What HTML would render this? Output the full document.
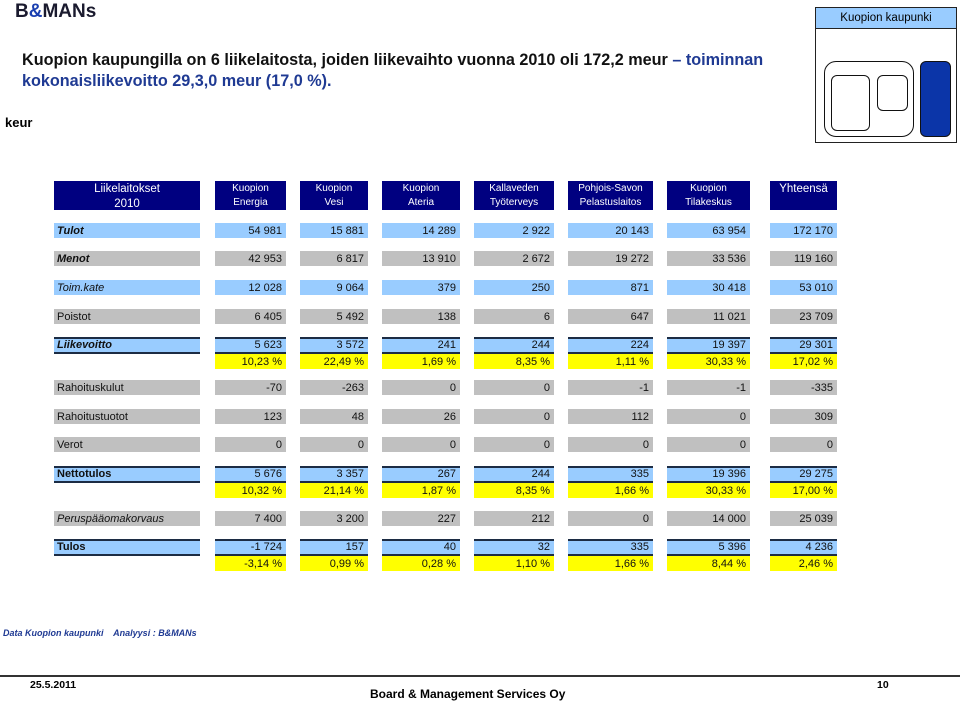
<!DOCTYPE html>
<html><head><meta charset="utf-8">
<style>
body{margin:0;width:960px;height:702px;background:#fff;position:relative;overflow:hidden;font-family:"Liberation Sans",sans-serif;}
.a{position:absolute;}
.c{position:absolute;height:15px;font-size:11px;line-height:16px;text-align:right;padding-right:4px;box-sizing:border-box;color:#111;}
.h{position:absolute;background:#000080;color:#fff;text-align:center;font-size:10px;line-height:14px;box-sizing:border-box;padding-top:1px;}
</style></head><body>
<div class="a" style="left:15px;top:1px;font-size:19px;font-weight:bold;color:#1a1a2e;">B<span style="color:#1a3fb0">&amp;</span>MANs</div>
<div class="a" style="left:22px;top:50px;font-size:16.2px;font-weight:bold;line-height:21px;color:#111;white-space:nowrap;">Kuopion kaupungilla on 6 liikelaitosta, joiden liikevaihto vuonna 2010 oli 172,2 meur <span style="color:#1f3a93">– toiminnan</span><br><span style="color:#1f3a93">kokonaisliikevoitto 29,3,0 meur (17,0 %).</span></div>
<div class="a" style="left:5px;top:115px;font-size:13px;font-weight:bold;">keur</div>
<div class="a" style="left:815px;top:7px;width:142px;height:136px;border:1px solid #222;box-sizing:border-box;">
 <div class="a" style="left:0;top:0;width:140px;height:20px;background:#99ccff;border-bottom:1px solid #222;font-size:11.5px;line-height:20px;text-align:center;">Kuopion kaupunki</div>
 <div class="a" style="left:8px;top:53px;width:90px;height:76px;border:1.5px solid #111;border-radius:12px;box-sizing:border-box;"></div>
 <div class="a" style="left:15px;top:67px;width:39px;height:56px;border:1.5px solid #111;border-radius:6px;box-sizing:border-box;"></div>
 <div class="a" style="left:61px;top:67px;width:31px;height:36px;border:1.5px solid #111;border-radius:6px;box-sizing:border-box;"></div>
 <div class="a" style="left:104px;top:53px;width:31px;height:76px;background:#0b35a8;border:1.5px solid #111;border-radius:6px;box-sizing:border-box;"></div>
</div>
<div id="tbl"></div>
<div class="a" style="left:3px;top:628px;font-size:9px;font-style:italic;font-weight:bold;color:#1f3a93;">Data Kuopion kaupunki &nbsp;&nbsp; Analyysi : B&amp;MANs</div>
<div class="a" style="left:0;top:675px;width:960px;height:2px;background:#333;"></div>
<div class="a" style="left:30px;top:679px;font-size:10.5px;font-weight:bold;">25.5.2011</div>
<div class="a" style="left:370px;top:687px;font-size:12px;font-weight:bold;">Board &amp; Management Services Oy</div>
<div class="a" style="left:877px;top:679px;font-size:10.5px;font-weight:bold;">10</div>
<script>
const colX=[215,300,382,474,568,667,770];
const colW=[71,68,78,80,85,83,67];
const headers1=["Kuopion","Kuopion","Kuopion","Kallaveden","Pohjois-Savon","Kuopion","Yhteensä"];
const headers2=["Energia","Vesi","Ateria","Työterveys","Pelastuslaitos","Tilakeskus",""];
const rowLabels=["Tulot","Menot","Toim.kate","Poistot","Liikevoitto","Rahoituskulut","Rahoitustuotot","Verot","Nettotulos","Peruspääomakorvaus","Tulos"];
const rowY=[223,251,280,309,337,380,409,437,466,511,539];
const rowKind=["b","g","b","g","L","g","g","g","N","g","N"];
const labelStyle=["bi","bi","i","","bi","","","","b","i","b"];
const rowValues=[
["54 981","15 881","14 289","2 922","20 143","63 954","172 170"],
["42 953","6 817","13 910","2 672","19 272","33 536","119 160"],
["12 028","9 064","379","250","871","30 418","53 010"],
["6 405","5 492","138","6","647","11 021","23 709"],
["5 623","3 572","241","244","224","19 397","29 301"],
["-70","-263","0","0","-1","-1","-335"],
["123","48","26","0","112","0","309"],
["0","0","0","0","0","0","0"],
["5 676","3 357","267","244","335","19 396","29 275"],
["7 400","3 200","227","212","0","14 000","25 039"],
["-1 724","157","40","32","335","5 396","4 236"]];
const pctValues={4:["10,23 %","22,49 %","1,69 %","8,35 %","1,11 %","30,33 %","17,02 %"],
8:["10,32 %","21,14 %","1,87 %","8,35 %","1,66 %","30,33 %","17,00 %"],
10:["-3,14 %","0,99 %","0,28 %","1,10 %","1,66 %","8,44 %","2,46 %"]};
const T=document.getElementById('tbl');
function mk(cls,x,y,w,h,txt,bg){const d=document.createElement('div');d.className=cls;d.style.left=x+'px';d.style.top=y+'px';d.style.width=w+'px';if(h)d.style.height=h+'px';if(bg)d.style.background=bg;d.innerHTML=txt;T.appendChild(d);return d;}
let hd=mk('h',54,181,146,29,'<span style="font-size:11.5px">Liikelaitokset</span><br><span style="font-size:11.5px">2010</span>');


for(let j=0;j<7;j++){
 const e=mk('h',colX[j],181,colW[j],29,headers1[j]+'<br>'+headers2[j]);
 if(j==6)e.style.fontSize='11.5px';
 
 
}
for(let i=0;i<rowLabels.length;i++){
 const k=rowKind[i];const bg=(k=='g')?'#c0c0c0':'#99ccff';const y=rowY[i];
 const lb=mk('c',54,y,146,15,rowLabels[i],bg);
 lb.style.textAlign='left';lb.style.paddingLeft='3px';
 if(labelStyle[i].includes('b'))lb.style.fontWeight='bold';
 if(labelStyle[i].includes('i'))lb.style.fontStyle='italic';
 if(k=='L'||k=='N'){lb.style.borderTop='2px solid #1c2c44';lb.style.borderBottom='2px solid #1c2c44';lb.style.height='17px';lb.style.lineHeight='13px';}
 
 
 for(let j=0;j<7;j++){
  const c=mk('c',colX[j],y,colW[j],15,rowValues[i][j],bg);
  if(k=='L'||k=='N'){c.style.borderTop='2px solid #1c2c44';c.style.borderBottom='2px solid #1c2c44';c.style.height='17px';c.style.lineHeight='13px';}
  
  
  if(pctValues[i]){
   const p=mk('c',colX[j],y+17,colW[j],15,pctValues[i][j],'#ffff00');
   
   
  }
 }
}
</script>
</body></html>
